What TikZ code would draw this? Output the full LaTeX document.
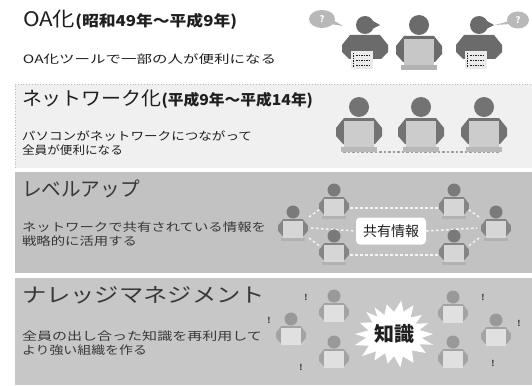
\documentclass[tikz,border=0pt]{standalone}
\usepackage{fontspec}
\usepackage{graphicx}
\setmainfont{Noto Sans CJK JP}
\usetikzlibrary{calc,shapes.geometric}

\definecolor{ink}{gray}{0.12}
\definecolor{inkB}{gray}{0.22}
\definecolor{bandA}{gray}{0.94}
\definecolor{bandB}{gray}{0.76}
\definecolor{bandC}{gray}{0.78}
\definecolor{bubc}{gray}{0.72}

% scale a line of text horizontally to a given width, keeping its height
\newsavebox\fitbox
\newcommand\fitw[2]{\sbox\fitbox{#2}\resizebox{#1}{\ht\fitbox}{\usebox\fitbox}}

\tikzset{
  txt/.style={inner sep=0pt, outer sep=0pt, text=ink, anchor=base west},
  excl/.style={inner sep=0pt, font=\fontsize{8}{8}\selectfont\bfseries, text=inkB},
  netline/.style={draw=gray!75, line width=1.6pt, dash pattern=on 2.5pt off 2pt},
  linkline/.style={draw=white!92!gray, line width=1.5pt, dash pattern=on 2.5pt off 2.5pt},
  % person sitting behind a PC
  pc person/.pic={
    \fill[headc] (0,0) circle[radius=10];
    \fill[bodyc] (-15,11) -- (15,11) -- (23,21) -- (23,29) -- (16,37)
                 -- (-16,37) -- (-23,29) -- (-23,21) -- cycle;
    \fill[scrc] (-15,14) rectangle (15,40);
    \fill[basec] (-18,40) rectangle (18,45);
  },
  % person holding a paper list
  doc person/.pic={
    \fill[headc] (0,0) circle[radius=9];
    \fill[headc] (6,-5) -- (15,0) -- (7,4) -- cycle;
    \fill[bodyc] (-15,10) -- (15,10) -- (23,20) -- (23,27) -- (16,34)
                 -- (-16,34) -- (-23,27) -- (-23,20) -- cycle;
    \fill[paperc] (-14,26) rectangle (8,44);
    \foreach \yy in {30,35,40}
      \draw[ink, line width=0.9pt, dash pattern=on 1.5pt off 1pt] (-9,\yy) -- (5,\yy);
    \draw[ink, line width=0.9pt, dash pattern=on 1.5pt off 1pt] (-12,28) -- (-12,43);
  },
}

\begin{document}
\begin{tikzpicture}[x=1pt,y=-1pt]
\useasboundingbox (0,0) rectangle (532,385);
\fill[white] (0,0) rectangle (532,385);

% ---------- bands ----------
\fill[bandA] (15,84) rectangle (532,168);
\draw[gray!55, dotted, line width=0.8pt] (15,168) |- (532,84);
\fill[bandB] (15,172) rectangle (532,273);
\fill[bandC] (15,278) rectangle (532,385);

% ---------- band 1: OA ----------
\node[txt] (t1) at (23,27) {\fitw{214pt}{\fontsize{20}{22}\selectfont OA化{\fontsize{15}{17}\selectfont\bfseries (昭和49年～平成9年)}}};
\node[txt] (s1) at (23,64) {\fitw{253pt}{\fontsize{11.5}{14}\selectfont OA化ツールで一部の人が便利になる}};

\begin{scope}
  \colorlet{headc}{black!58}\colorlet{bodyc}{black!58}
  \colorlet{scrc}{black!22}\colorlet{basec}{black!30}\colorlet{paperc}{black!8}
  \pic (oa1) at (365,25) {doc person};
  \pic (oa2) at (419,25) {pc person};
  \pic (oa3) at (479,25) {doc person};
\end{scope}

\node[ellipse, fill=bubc, minimum width=26pt, minimum height=18pt, inner sep=0pt,
      font=\fontsize{9}{9}\selectfont\bfseries, text=white] (bubL) at (322,19) {?};
\coordinate (tipL) at (343,26);
\fill[bubc] ($(bubL.east)+(-4,0)$) -- (tipL) -- ($(bubL.east)+(-5,5)$) -- cycle;
\node[ellipse, fill=bubc, minimum width=22pt, minimum height=17pt, inner sep=0pt,
      font=\fontsize{9}{9}\selectfont\bfseries, text=white] (bubR) at (518,20) {?};
\coordinate (tipR) at (495,25);
\fill[bubc] ($(bubR.west)+(3,1)$) -- (tipR) -- ($(bubR.west)+(4,4)$) -- cycle;

% ---------- band 2: network ----------
\node[txt] (t2) at (22,105.5) {\fitw{291pt}{\fontsize{19}{22}\selectfont ネットワーク化{\fontsize{15}{17}\selectfont\bfseries (平成9年～平成14年)}}};
\node[txt] (s2a) at (22,140.5) {\fitw{230pt}{\fontsize{11.5}{14}\selectfont パソコンがネットワークにつながって}};
\node[txt] (s2b) at (22,154.5) {\fitw{101pt}{\fontsize{11.5}{14}\selectfont 全員が便利になる}};

\coordinate (netW) at (343,152);
\coordinate (netE) at (499,152);
\draw[netline] (netW) -- (netE);
\begin{scope}
  \colorlet{headc}{black!55}\colorlet{bodyc}{black!55}
  \colorlet{scrc}{black!20}\colorlet{basec}{black!28}
  \pic (nw1) at (359,107) {pc person};
  \pic (nw2) at (421,107) {pc person};
  \pic (nw3) at (484,107) {pc person};
\end{scope}

% ---------- band 3: level up ----------
\node[txt, text=inkB] (t3) at (22,196) {\fitw{118pt}{\fontsize{20}{22}\selectfont レベルアップ}};
\node[txt, text=inkB] (s3a) at (22,231) {\fitw{244pt}{\fontsize{11.5}{14}\selectfont ネットワークで共有されている情報を}};
\node[txt, text=inkB] (s3b) at (22,245) {\fitw{115pt}{\fontsize{11.5}{14}\selectfont 戦略的に活用する}};

\node[fill=white, rounded corners=4pt, minimum width=70pt, minimum height=27pt,
      inner sep=0pt, font=\fontsize{14}{14}\selectfont, text=ink] (share) at (391,231) {共有情報};

\coordinate (tlE) at (350,208);  \coordinate (trW) at (438,208);
\coordinate (blE) at (350,255);  \coordinate (brW) at (438,255);
\coordinate (mlE) at (311,228);  \coordinate (mrW) at (477,228);
\coordinate (mlNE) at (309,217); \coordinate (tlSW) at (323,207);
\coordinate (mlSE) at (309,238); \coordinate (blNW) at (322,248);
\coordinate (mrNW) at (479,217); \coordinate (trSE) at (465,207);
\coordinate (mrSW) at (479,238); \coordinate (brNE) at (466,248);
\draw[linkline] (tlE) -- (trW);
\draw[linkline] (blE) -- (brW);
\draw[linkline] (mlE) -- (share.west);
\draw[linkline] (share.east) -- (mrW);
\draw[linkline] (mlNE) -- (tlSW);
\draw[linkline] (mlSE) -- (blNW);
\draw[linkline] (mrNW) -- (trSE);
\draw[linkline] (mrSW) -- (brNE);

\begin{scope}
  \colorlet{headc}{black!52}\colorlet{bodyc}{black!48}
  \colorlet{scrc}{black!16}\colorlet{basec}{black!30}
  \pic[scale=0.65] (lu1) at (334,190) {pc person};
  \pic[scale=0.65] (lu2) at (293,212) {pc person};
  \pic[scale=0.65] (lu3) at (334,236) {pc person};
  \pic[scale=0.65] (lu4) at (454,190) {pc person};
  \pic[scale=0.65] (lu5) at (496,212) {pc person};
  \pic[scale=0.65] (lu6) at (454,236) {pc person};
\end{scope}

% ---------- band 4: knowledge management ----------
\node[txt, text=inkB] (t4) at (22,302) {\fitw{243pt}{\fontsize{20}{22}\selectfont ナレッジマネジメント}};
\node[txt, text=inkB] (s4a) at (22,340) {\fitw{240pt}{\fontsize{11.5}{14}\selectfont 全員の出し合った知識を再利用して}};
\node[txt, text=inkB] (s4b) at (22,354.5) {\fitw{125pt}{\fontsize{11.5}{14}\selectfont より強い組織を作る}};

\begin{scope}
  \colorlet{headc}{black!40}\colorlet{bodyc}{black!36}
  \colorlet{scrc}{black!12}\colorlet{basec}{black!22}
  \pic[scale=0.65] (km1) at (334,296) {pc person};
  \pic[scale=0.65] (km2) at (291,319) {pc person};
  \pic[scale=0.65] (km3) at (334,342) {pc person};
  \pic[scale=0.65] (km4) at (453,297) {pc person};
  \pic[scale=0.65] (km5) at (496,320) {pc person};
  \pic[scale=0.65] (km6) at (453,342) {pc person};
\end{scope}

\coordinate (kc) at (394,334);
\fill[white, shift={(kc)}]
  plot[variable=\t, samples at={0,10,...,350}]
  ({cos(\t)*(27+12*(1-mod(\t/10,2)))*(1+0.08*sin(3*\t))},
   {sin(\t)*(22+10*(1-mod(\t/10,2)))*(1+0.08*cos(5*\t))}) -- cycle;
\node[inner sep=0pt, font=\fontsize{20}{20}\selectfont\bfseries, text=ink] (know) at (kc) {知識};

\node[excl] (x1) at (306,297) {!};
\node[excl] (x2) at (269,320) {!};
\node[excl] (x3) at (301,367) {!};
\node[excl] (x4) at (483,297) {!};
\node[excl] (x5) at (519,323) {!};
\node[excl] (x6) at (493,363) {!};
\end{tikzpicture}
\end{document}
